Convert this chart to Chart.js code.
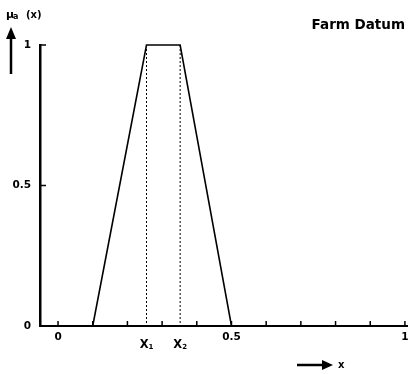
<!DOCTYPE html>
<html>
<head>
<meta charset="utf-8">
<script src="https://cdn.jsdelivr.net/npm/chart.js@4"></script>
<style>
  html, body { margin: 0; padding: 0; background: #fff; }
  #wrap { width: 409px; height: 374px; position: relative; }
</style>
</head>
<body>
<div id="wrap"><canvas id="farmChart"></canvas></div>
<script>
// Membership function of "Farm Datum" (trapezoid)
const xValues = [0.1, 0.255, 0.352, 0.5, 1];
const muValues = [0, 1, 1, 0, 0];

// Tick marks and tick labels
const xTickMarks = [0, 0.1, 0.2, 0.3, 0.4, 0.5, 0.6, 0.7, 0.8, 0.9, 1];
const xTickValues = [0, 0.5, 1];
const xTickLabels = ['0', '0.5', '1'];
const yTickValues = [0, 0.5, 1];
const yTickLabels = ['0', '0.5', '1'];

// Breakpoints of the plateau
const plateauValues = [0.255, 0.352];
const plateauLabels = ['X', 'X'];
const plateauSubs = ['1', '2'];

const FONT = '"DejaVu Sans", sans-serif';

const annotations = {
    id: 'annotations',
    afterDraw(chart) {
        const ctx = chart.ctx;
        const xs = chart.scales.x;
        const ys = chart.scales.y;
        const y0 = ys.getPixelForValue(0);
        const x0 = xs.getPixelForValue(xs.min);
        ctx.save();
        ctx.fillStyle = '#000';
        ctx.strokeStyle = '#000';

        // tick marks pointing into the plot
        ctx.lineWidth = 1.5;
        xTickMarks.forEach(v => {
            const px = xs.getPixelForValue(v);
            ctx.beginPath();
            ctx.moveTo(px, y0);
            ctx.lineTo(px, y0 - 5);
            ctx.stroke();
        });
        yTickValues.forEach(v => {
            if (v === 0) return;
            const py = ys.getPixelForValue(v);
            ctx.beginPath();
            ctx.moveTo(x0, py);
            ctx.lineTo(x0 + 6, py);
            ctx.stroke();
        });

        // dotted drop lines from the plateau corners
        ctx.lineWidth = 1;
        ctx.setLineDash([2, 2]);
        plateauValues.forEach(v => {
            const px = xs.getPixelForValue(v);
            ctx.beginPath();
            ctx.moveTo(px, ys.getPixelForValue(1));
            ctx.lineTo(px, y0);
            ctx.stroke();
        });
        ctx.setLineDash([]);

        // tick labels
        ctx.font = 'bold 10.5px ' + FONT;
        ctx.textBaseline = 'middle';
        ctx.textAlign = 'center';
        xTickValues.forEach((v, i) => {
            let px = xs.getPixelForValue(v);
            if (px > chart.width - 4) px = chart.width - 4;
            ctx.fillText(xTickLabels[i], px, y0 + 11);
        });
        ctx.textAlign = 'right';
        yTickValues.forEach((v, i) => {
            ctx.fillText(yTickLabels[i], 31, ys.getPixelForValue(v));
        });

        // X1 / X2 labels
        plateauValues.forEach((v, i) => {
            const px = xs.getPixelForValue(v);
            ctx.font = 'bold 11.5px ' + FONT;
            ctx.textAlign = 'right';
            ctx.fillText(plateauLabels[i], px + 2, y0 + 19);
            ctx.font = 'bold 7px ' + FONT;
            ctx.textAlign = 'left';
            ctx.fillText(plateauSubs[i], px + 2, y0 + 21);
        });

        // title
        ctx.font = 'bold 13.5px ' + FONT;
        ctx.textAlign = 'right';
        ctx.fillText('Farm Datum', 405, 25);

        // y axis label mu_a(x)
        ctx.textAlign = 'left';
        ctx.font = 'bold 11px ' + FONT;
        ctx.fillText('μ', 6, 15);
        ctx.font = 'bold 8px ' + FONT;
        ctx.fillText('a', 13, 17);
        ctx.font = 'bold 10px ' + FONT;
        ctx.fillText('(x)', 26, 15);

        // upward arrow
        ctx.lineWidth = 2.5;
        ctx.beginPath();
        ctx.moveTo(11, 74);
        ctx.lineTo(11, 36);
        ctx.stroke();
        ctx.beginPath();
        ctx.moveTo(11, 27);
        ctx.lineTo(16, 39);
        ctx.lineTo(6, 39);
        ctx.closePath();
        ctx.fill();

        // rightward arrow with x
        ctx.beginPath();
        ctx.moveTo(297, 365);
        ctx.lineTo(324, 365);
        ctx.stroke();
        ctx.beginPath();
        ctx.moveTo(333, 365);
        ctx.lineTo(322, 360);
        ctx.lineTo(322, 370);
        ctx.closePath();
        ctx.fill();
        ctx.font = 'bold 10px ' + FONT;
        ctx.fillText('x', 338, 365);

        ctx.restore();
    }
};

new Chart(document.getElementById('farmChart'), {
    type: 'line',
    data: {
        datasets: [{
            data: xValues.map((x, i) => ({ x: x, y: muValues[i] })),
            borderColor: '#000',
            borderWidth: 1.6,
            pointRadius: 0,
            tension: 0,
            fill: false,
            clip: false
        }]
    },
    options: {
        responsive: true,
        maintainAspectRatio: false,
        animation: false,
        events: [],
        layout: { padding: { left: 40, right: 2, top: 45, bottom: 48 } },
        plugins: { legend: { display: false }, tooltip: { enabled: false } },
        scales: {
            x: {
                type: 'linear',
                min: -0.052,
                max: 1.006,
                ticks: { display: false },
                grid: { display: true, drawOnChartArea: false, drawTicks: false },
                border: { display: true, color: '#000', width: 2 }
            },
            y: {
                type: 'linear',
                min: 0,
                max: 1,
                ticks: { display: false },
                grid: { display: true, drawOnChartArea: false, drawTicks: false },
                border: { display: true, color: '#000', width: 2.5 }
            }
        }
    },
    plugins: [annotations]
});
</script>
</body>
</html>
